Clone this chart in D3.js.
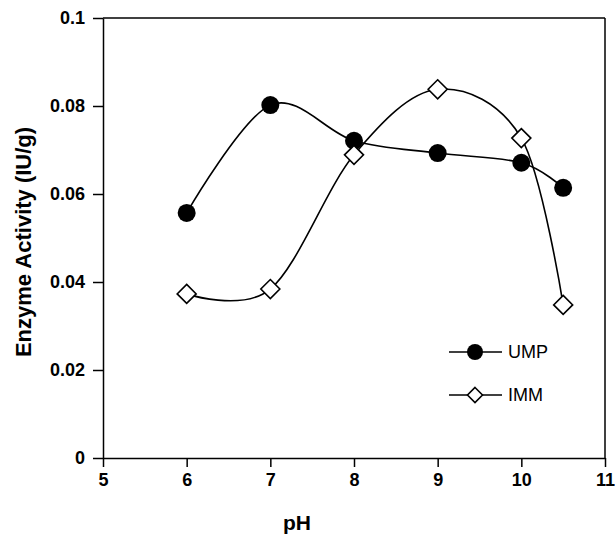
<!DOCTYPE html>
<meta charset="utf-8">
<head>
<style>
body{margin:0;background:#fff;}
text{font-family:"Liberation Sans",Arial,sans-serif;}
.tick text{font-size:18px;font-weight:bold;fill:#000;}
.label{font-weight:bold;}
.leg{font-size:18px;}
</style>
</head>
<body>
<script src="https://d3js.org/d3.v7.min.js"></script>
<script>

var pH=[6,7,8,9,10,10.5];
var ump=[0.0557,0.0802,0.0721,0.0693,0.0671,0.0614];
var imm=[0.0373,0.0384,0.0689,0.0838,0.0727,0.0348];
var xTicks=[5,6,7,8,9,10,11];
var yTicks=[0,0.02,0.04,0.06,0.08,0.1];

var svg=d3.select("body").append("svg").attr("width",616).attr("height",534);

var x=d3.scaleLinear().domain([5,11]).range([103,605]);
var y=d3.scaleLinear().domain([0,0.1]).range([458,18]);

// frame top/right
svg.append("line").attr("x1",x(5)).attr("x2",x(11)).attr("y1",y(0.1)).attr("y2",y(0.1))
	.attr("stroke","#000").attr("stroke-width",1.5);
svg.append("line").attr("x1",x(11)).attr("x2",x(11)).attr("y1",y(0.1)).attr("y2",y(0))
	.attr("stroke","#000").attr("stroke-width",1.5);

var xa=svg.append("g").attr("transform","translate(0,"+y(0)+")")
	.call(d3.axisBottom(x).tickValues(xTicks).tickFormat(d3.format("d")).tickSize(9).tickSizeOuter(0).tickPadding(6));
var ya=svg.append("g").attr("transform","translate("+x(5)+",0)")
	.call(d3.axisLeft(y).tickValues(yTicks).tickFormat(function(d){return d===0?"0":String(d);}).tickSize(10).tickSizeOuter(0).tickPadding(8));
[xa,ya].forEach(function(a){
	a.select(".domain").attr("stroke","#000").attr("stroke-width",1.5);
	a.selectAll(".tick line").attr("stroke","#000").attr("stroke-width",1.5);
});

svg.append("text").attr("class","label").attr("text-anchor","middle").style("font-size","22px")
	.attr("transform","translate(31,242) rotate(-90)").text("Enzyme Activity (IU/g)");
svg.append("text").attr("class","label").attr("text-anchor","middle").style("font-size","21px")
	.attr("x",297).attr("y",530).text("pH");

var line=d3.line().curve(d3.curveCardinal.tension(0))
	.x(function(d){return x(d[0]);}).y(function(d){return y(d[1]);});

var s1=pH.map(function(p,i){return [p,ump[i]];});
var s2=pH.map(function(p,i){return [p,imm[i]];});

svg.append("path").attr("d",line(s1)).attr("fill","none").attr("stroke","#000").attr("stroke-width",1.6);
svg.append("path").attr("d",line(s2)).attr("fill","none").attr("stroke","#000").attr("stroke-width",1.6);

var diamond=function(cx,cy,r){
	return "M"+cx+","+(cy-r)+"L"+(cx+r)+","+cy+"L"+cx+","+(cy+r)+"L"+(cx-r)+","+cy+"Z";
};

svg.selectAll(".ump").data(s1).enter().append("circle")
	.attr("cx",function(d){return x(d[0]);}).attr("cy",function(d){return y(d[1]);})
	.attr("r",9).attr("fill","#000");
svg.selectAll(".imm").data(s2).enter().append("path")
	.attr("d",function(d){return diamond(x(d[0]),y(d[1]),9.5);})
	.attr("fill","#fff").attr("stroke","#000").attr("stroke-width",1.6);

// legend
var lg=svg.append("g");
lg.append("line").attr("x1",449).attr("x2",502).attr("y1",352).attr("y2",352).attr("stroke","#000").attr("stroke-width",1.6);
lg.append("circle").attr("cx",475).attr("cy",352).attr("r",8).attr("fill","#000");
lg.append("text").attr("class","leg").attr("x",508).attr("y",358).text("UMP");
lg.append("line").attr("x1",449).attr("x2",502).attr("y1",395).attr("y2",395).attr("stroke","#000").attr("stroke-width",1.6);
lg.append("path").attr("d",diamond(475,395,7.5)).attr("fill","#fff").attr("stroke","#000").attr("stroke-width",1.6);
lg.append("text").attr("class","leg").attr("x",508).attr("y",401).text("IMM");

</script>
</body>
</html>
